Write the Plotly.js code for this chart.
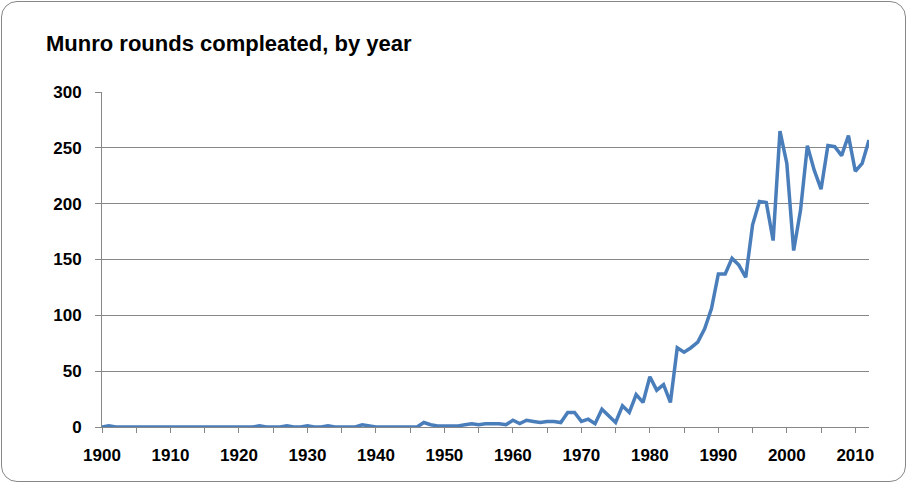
<!DOCTYPE html>
<html>
<head>
<meta charset="utf-8">
<script src="https://cdn.plot.ly/plotly-3.0.1.min.js"></script>
<style>
  html, body { margin: 0; padding: 0; background: #ffffff; }
  #wrap { position: relative; width: 909px; height: 487px; }
  #plot { position: absolute; left: 0; top: 0; width: 909px; height: 487px; }
  #frame {
    position: absolute; left: 1px; top: 1px; width: 905px; height: 481px;
    box-sizing: border-box; border: 1.5px solid #878787; border-radius: 16px;
    pointer-events: none;
  }
</style>
</head>
<body>
<div id="wrap">
  <div id="plot"></div>
  <div id="frame"></div>
</div>
<script>
// Munro rounds completed each year
const years = [];
for (let y = 1900; y <= 2012; y++) years.push(y);

const rounds1900s = [0, 1, 0, 0, 0, 0, 0, 0, 0, 0];              // 1900-1909
const rounds1910s = [0, 0, 0, 0, 0, 0, 0, 0, 0, 0];              // 1910-1919
const rounds1920s = [0, 0, 0, 1, 0, 0, 0, 1, 0, 0];              // 1920-1929
const rounds1930s = [1, 0, 0, 1, 0, 0, 0, 0, 2, 1];              // 1930-1939
const rounds1940s = [0, 0, 0, 0, 0, 0, 0, 4, 2, 1];              // 1940-1949
const rounds1950s = [1, 1, 1, 2, 3, 2, 3, 3, 3, 2];              // 1950-1959
const rounds1960s = [6, 3, 6, 5, 4, 5, 5, 4, 13, 13];            // 1960-1969
const rounds1970s = [5, 7, 3, 16, 10, 4, 19, 13, 29, 22];        // 1970-1979
const rounds1980s = [45, 33, 38, 22, 71, 67, 71, 76, 88, 106];   // 1980-1989
const rounds1990s = [137, 137, 151, 145, 134, 181, 202, 201, 167, 265]; // 1990-1999
const rounds2000s = [236, 158, 194, 252, 230, 213, 252, 251, 243, 261]; // 2000-2009
const rounds2010s = [229, 236, 257];                             // 2010-2012

const rounds = [].concat(rounds1900s, rounds1910s, rounds1920s, rounds1930s,
  rounds1940s, rounds1950s, rounds1960s, rounds1970s, rounds1980s,
  rounds1990s, rounds2000s, rounds2010s);

const yTicks = [0, 50, 100, 150, 200, 250, 300];

const FONT = '"Liberation Sans", Arial, sans-serif';
const GRID = '#878787';

const trace = {
  x: years,
  y: rounds,
  type: 'scatter',
  mode: 'lines',
  line: { color: '#4a7ebb', width: 3.5 },
  hoverinfo: 'skip',
  showlegend: false,
};

const layout = {
  width: 909,
  height: 487,
  margin: { l: 101.5, r: 39.5, t: 92, b: 60 },
  paper_bgcolor: 'rgba(0,0,0,0)',
  plot_bgcolor: '#ffffff',
  showlegend: false,
  title: {
    text: '<b>Munro rounds compleated, by year</b>',
    font: { family: FONT, size: 22, color: '#000000' },
    xref: 'container', yref: 'container',
    x: 46 / 909, xanchor: 'left',
    y: 1 - 43 / 487, yanchor: 'middle',
  },
  xaxis: {
    range: [1900, 2012],
    tickmode: 'linear', tick0: 1900, dtick: 10,
    ticks: 'outside', ticklen: 5, tickwidth: 1, tickcolor: GRID,
    minor: { tick0: 1900, dtick: 5, ticks: 'outside', ticklen: 5, tickwidth: 1, tickcolor: GRID, showgrid: false },
    showgrid: false, zeroline: false,
    showline: true, linecolor: GRID, linewidth: 1,
    tickfont: { family: FONT, size: 17, color: '#000000', weight: 'bold' },
    ticklabelstandoff: 8,
    fixedrange: true,
  },
  yaxis: {
    range: [0, 300],
    tickmode: 'array', tickvals: yTicks, ticktext: yTicks.map(String),
    ticks: 'outside', ticklen: 6, tickwidth: 1, tickcolor: GRID,
    showgrid: true, gridcolor: GRID, gridwidth: 1,
    zeroline: false,
    showline: true, linecolor: GRID, linewidth: 1,
    tickfont: { family: FONT, size: 17, color: '#000000', weight: 'bold' },
    ticklabelstandoff: 10,
    fixedrange: true,
  },
};

Plotly.newPlot('plot', [trace], layout, { displayModeBar: false, staticPlot: true });
</script>
</body>
</html>
